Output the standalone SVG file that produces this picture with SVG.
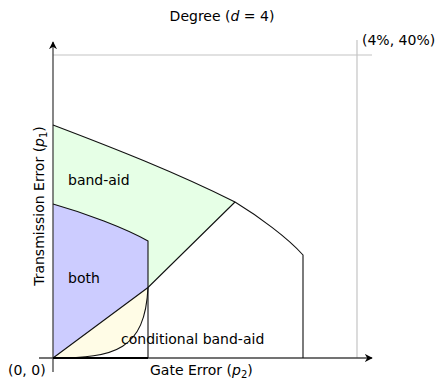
<svg xmlns="http://www.w3.org/2000/svg" width="440" height="379" viewBox="0 0 440 379">
<style>
text{font-family:"DejaVu Sans","Liberation Sans",sans-serif;font-size:14px;fill:#000}
.m{font-style:italic}
.grid{stroke:#c4c4c4;stroke-width:1.2;fill:none}
.edge{stroke:#111;stroke-width:1.1;fill:none}
.axis{stroke:#444;stroke-width:1.3;fill:none}
</style>
<defs>
<marker id="arr" viewBox="0 0 10 10" refX="9" refY="5" markerWidth="8" markerHeight="8" markerUnits="userSpaceOnUse" orient="auto">
<path d="M0,0 L10,5 L0,10 L3,5 Z" fill="#000"/>
</marker>
</defs>
<text x="222" y="21" text-anchor="middle">Degree (<tspan class="m">d</tspan> = 4)</text>
<g id="grid">
<line class="grid" x1="53" y1="55" x2="372" y2="55"/>
<line class="grid" x1="357" y1="40" x2="357" y2="358"/>
<text x="362" y="45">(4%, 40%)</text>
</g>
<g id="band-aid">
<path d="M53,125 C113,147.8 175,172 235,202 L148,287.5 L53,358 Z" fill="#e6ffe6"/>
<text x="68" y="185">band-aid</text>
</g>
<g id="both">
<path d="M53,204 C85,213 125,228 148,241 L148,287.5 L53,358 Z" fill="#ccccff"/>
<text x="68" y="283">both</text>
</g>
<g id="conditional">
<path d="M53,358 L148,287.5 C145,350 115,358 53,358 Z" fill="#fffce6"/>
<text x="121" y="344">conditional band-aid</text>
</g>
<g id="axes">
<line class="axis" x1="53" y1="372" x2="53" y2="42" marker-end="url(#arr)"/>
<line class="axis" x1="39" y1="358" x2="372" y2="358" marker-end="url(#arr)"/>
<text x="8" y="375">(0, 0)</text>
<text x="150" y="375">Gate Error (<tspan class="m">p</tspan><tspan font-size="10" dy="3">2</tspan><tspan dy="-3">)</tspan></text>
<text transform="translate(44,206) rotate(-90)" text-anchor="middle">Transmission Error (<tspan class="m">p</tspan><tspan font-size="10" dy="3">1</tspan><tspan dy="-3">)</tspan></text>
</g>
<g id="connectors">
<path class="edge" d="M53,125 C113,147.8 175,172 235,202 C258,216 288,238 303,255 L303,358"/>
<path class="edge" d="M53,358 L148,287.5 L235,202"/>
<path class="edge" d="M53,204 C85,213 125,228 148,241 L148,358"/>
<path class="edge" d="M53,358 C115,358 145,350 148,287.5"/>
<line x1="53" y1="358" x2="148" y2="358" stroke="#000" stroke-width="2"/>
</g>
</svg>
